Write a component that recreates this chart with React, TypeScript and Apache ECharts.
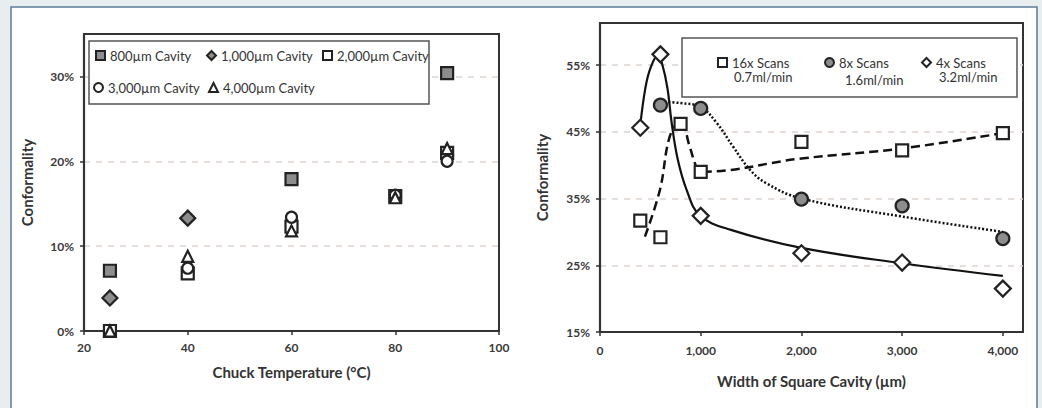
import React, { useEffect, useRef } from "react";
import * as echarts from "echarts";

// ---------- Left chart data (Conformality % vs Chuck Temperature °C) ----------
const leftXTicks = [20, 40, 60, 80, 100];
const cav800: [number, number][] = [[25, 7.1], [60, 17.9], [90, 30.4]];
const cav1000: [number, number][] = [[25, 3.9], [40, 13.3]];
const cav2000: [number, number][] = [[25, 0], [40, 6.8], [60, 12.3], [80, 15.9], [90, 21.0]];
const cav3000: [number, number][] = [[40, 7.4], [60, 13.4], [80, 16.0], [90, 20.0]];
const cav4000: [number, number][] = [[25, 0], [40, 8.8], [60, 11.8], [80, 15.7], [90, 21.5]];

// ---------- Right chart data (Conformality % vs Width of Square Cavity µm) ----------
const widths16 = [400, 600, 800, 1000, 2000, 3000, 4000];
const scans16 = [31.7, 29.2, 46.2, 39.0, 43.5, 42.2, 44.8];
const widths8 = [600, 1000, 2000, 3000, 4000];
const scans8 = [49.0, 48.5, 34.9, 33.9, 29.0];
const widths4 = [400, 600, 1000, 2000, 3000, 4000];
const scans4 = [45.6, 56.6, 32.4, 26.8, 25.4, 21.5];

// fitted trend curves as drawn in the figure
const trend16: [number, number][] = [
  [446, 29.3], [595, 36.3], [693, 44.3], [800, 46.7], [890, 42.8], [960, 39.6],
  [1000, 39.0], [2000, 41.0], [3000, 42.5], [4000, 44.8],
];
const trend8: [number, number][] = [
  [600, 49.5], [800, 49.3], [1000, 48.7], [1160, 46.3], [1320, 42.8], [1490, 39.3],
  [1650, 37.3], [2000, 35.0], [3000, 32.3], [4000, 30.0],
];
const trend4: [number, number][] = [
  [400, 46.0], [450, 51.5], [500, 54.5], [575, 56.5], [620, 55.0], [670, 51.5],
  [710, 46.5], [770, 41.0], [860, 36.3], [990, 32.5], [1300, 30.3], [2000, 27.6],
  [3000, 25.3], [4000, 23.4],
];

const legendLeft = ["800µm Cavity", "1,000µm Cavity", "2,000µm Cavity", "3,000µm Cavity", "4,000µm Cavity"];
const legendRight = ["16x Scans", "8x Scans", "4x Scans"];
const legendRightSub = ["0.7ml/min", "1.6ml/min", "3.2ml/min"];

const FONT = "Lato";
const DARK = "#222";
const GRAYFILL = "#8d8d8d";

export default function App() {
  const ref = useRef<HTMLDivElement>(null);
  useEffect(() => {
    document.body.style.margin = "0";
    const chart = echarts.init(ref.current!, null, { renderer: "svg" });

    const splitLine = {
      show: true,
      showMaxLine: false,
      showMinLine: false,
      lineStyle: { color: "#ddd3ce", type: [6, 6] as number[], width: 1.5 },
    };
    const labelStyle = { color: "#3a3a3a", fontFamily: FONT, fontSize: 12, fontWeight: "bold" as const };
    const nameStyle = { color: "#333", fontFamily: FONT, fontSize: 15, fontWeight: "bold" as const };
    const axisLine = { show: true, lineStyle: { color: "#333", width: 2.2 } };
    const axisTick = { show: true, inside: false, length: 4, lineStyle: { color: "#333", width: 1.5 } };

    const mk = (name: string, data: [number, number][], symbol: string, size: number, fill: string, ax: number) => ({
      type: "scatter",
      name,
      data,
      symbol,
      symbolSize: size,
      xAxisIndex: ax,
      yAxisIndex: ax,
      z: 5,
      itemStyle: { color: fill, borderColor: DARK, borderWidth: 2.2, opacity: 1 },
    });

    const trendLine = (data: [number, number][], type: any, width: number) => ({
      type: "line",
      data,
      xAxisIndex: 1,
      yAxisIndex: 1,
      showSymbol: false,
      smooth: 0.4,
      z: 3,
      silent: true,
      lineStyle: { color: "#111", width, type },
    });

    const zip = (xs: number[], ys: number[]) => xs.map((x, i) => [x, ys[i]] as [number, number]);

    const leftLegendPos = [
      [95, 49], [206, 49], [322, 49], [93, 81], [208, 81],
    ];
    const rightLegendPos = [[717, 56], [824, 56], [921, 56]];

    const legendText = { fontFamily: FONT, fontSize: 13, color: "#333" };
    const legends: any[] = [];
    legendLeft.forEach((n, i) => {
      legends.push({
        data: [n],
        left: leftLegendPos[i][0],
        top: leftLegendPos[i][1],
        padding: 0,
        itemWidth: 9,
        itemHeight: 9,
        itemGap: 5,
        textStyle: legendText,
      });
    });
    legendRight.forEach((n, i) => {
      legends.push({
        data: [n],
        left: rightLegendPos[i][0],
        top: rightLegendPos[i][1],
        padding: 0,
        itemWidth: 9,
        itemHeight: 9,
        itemGap: 5,
        textStyle: legendText,
      });
    });

    const subPos = [[734, 77], [845, 80], [939, 77]];

    chart.setOption({
      animation: false,
      backgroundColor: "#e8edf0",
      graphic: [
        {
          type: "rect",
          z: -10,
          shape: { x: 11, y: 7, width: 1026, height: 420 },
          style: { fill: "#fff", stroke: "#5c7c96", lineWidth: 1.5 },
        },
        {
          type: "rect",
          z: 1,
          shape: { x: 89, y: 41, width: 340, height: 63 },
          style: { fill: "#fff", stroke: "#555", lineWidth: 1.5 },
        },
        {
          type: "rect",
          z: 1,
          shape: { x: 682, y: 38, width: 335, height: 59 },
          style: { fill: "#fff", stroke: "#555", lineWidth: 1.5 },
        },
        ...legendRightSub.map((t, i) => ({
          type: "text",
          z: 6,
          x: subPos[i][0],
          y: subPos[i][1],
          style: {
            text: t,
            fontFamily: FONT,
            fontSize: 13,
            fill: "#333",
            verticalAlign: "middle",
            align: "left",
          },
        })),
      ],
      legend: legends,
      grid: [
        { left: 84, top: 34, width: 415, height: 297, show: true, borderColor: "#333", borderWidth: 2, backgroundColor: "#fff" },
        { left: 600, top: 23, width: 423, height: 309, show: true, borderColor: "#333", borderWidth: 2, backgroundColor: "#fff" },
      ],
      xAxis: [
        {
          type: "value",
          gridIndex: 0,
          min: leftXTicks[0],
          max: leftXTicks[leftXTicks.length - 1],
          interval: 20,
          splitLine: { show: false },
          axisLine,
          axisTick,
          axisLabel: { ...labelStyle, margin: 10 },
          name: "Chuck Temperature (°C)",
          nameLocation: "middle",
          nameGap: 33,
          nameTextStyle: nameStyle,
        },
        {
          type: "value",
          gridIndex: 1,
          min: 0,
          max: 4200,
          interval: 1000,
          splitLine: { show: false },
          axisLine,
          axisTick,
          axisLabel: {
            ...labelStyle,
            margin: 12,
            showMaxLabel: false,
            formatter: (v: number) => (v === 0 ? "0" : v.toLocaleString("en-US")),
          },
          name: "Width of Square Cavity (µm)",
          nameLocation: "middle",
          nameGap: 41,
          nameTextStyle: nameStyle,
        },
      ],
      yAxis: [
        {
          type: "value",
          gridIndex: 0,
          min: 0,
          max: 35,
          interval: 10,
          splitLine,
          axisLine,
          axisTick,
          axisLabel: { ...labelStyle, margin: 10, showMaxLabel: false, formatter: "{value}%" },
          name: "Conformality",
          nameLocation: "middle",
          nameGap: 50,
          nameTextStyle: nameStyle,
        },
        {
          type: "value",
          gridIndex: 1,
          min: 15,
          max: 61.3,
          interval: 10,
          splitLine,
          axisLine,
          axisTick,
          axisLabel: { ...labelStyle, margin: 10, showMaxLabel: false, formatter: "{value}%" },
          name: "Conformality",
          nameLocation: "middle",
          nameGap: 51,
          nameTextStyle: nameStyle,
        },
      ],
      series: [
        mk(legendLeft[0], cav800, "rect", 12, GRAYFILL, 0),
        mk(legendLeft[1], cav1000, "diamond", 15, GRAYFILL, 0),
        mk(legendLeft[2], cav2000, "rect", 12, "#fff", 0),
        mk(legendLeft[3], cav3000, "circle", 11, "#fff", 0),
        mk(legendLeft[4], cav4000, "triangle", 11, "#fff", 0),
        trendLine(trend16, [9, 5], 2.5),
        trendLine(trend8, [2, 2], 2.5),
        trendLine(trend4, "solid", 2.2),
        mk(legendRight[0], zip(widths16, scans16), "rect", 12, "#fff", 1),
        mk(legendRight[1], zip(widths8, scans8), "circle", 13, GRAYFILL, 1),
        mk(legendRight[2], zip(widths4, scans4), "diamond", 16, "#fff", 1),
      ],
    });
    return () => chart.dispose();
  }, []);
  return <div ref={ref} style={{ width: 1042, height: 408 }} />;
}
